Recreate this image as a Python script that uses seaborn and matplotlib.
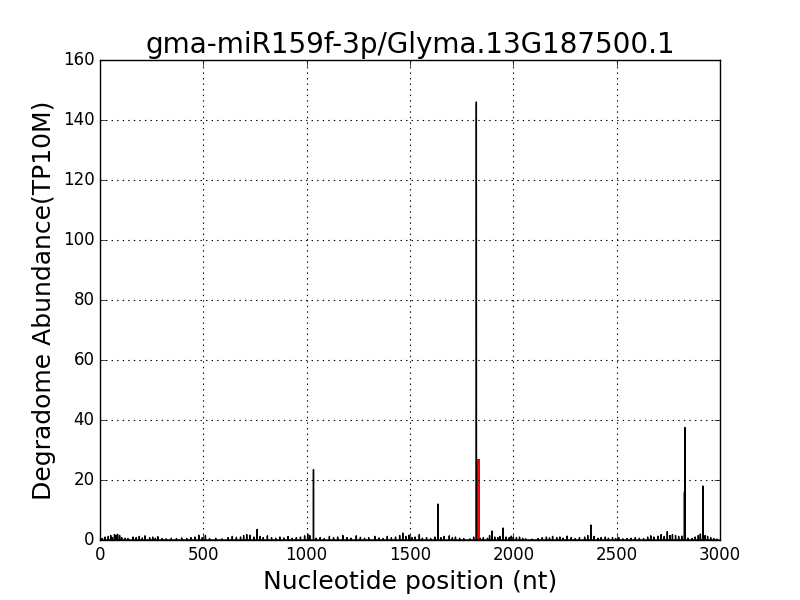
import seaborn as sns
import matplotlib
matplotlib.use("Agg")
import matplotlib.pyplot as plt
import numpy as np
import pandas as pd

plt.style.use("classic")

transcript_length = 2996

# black profile: positions with non-zero degradome reads
peak_pos = [10, 25, 40, 52, 60, 70, 78, 85, 95, 105, 120, 135, 160, 175, 190, 205, 218,
            240, 255, 268, 280, 300, 320, 345, 370, 395, 420, 440, 460, 478, 495,
            510, 530, 560, 590, 620, 640, 660, 680, 695, 710, 725, 745, 760, 775, 790,
            810, 830, 850, 870, 890, 910, 930, 950, 970, 990, 1005, 1015, 1033,
            1045, 1065, 1085, 1110, 1130, 1150, 1175, 1195, 1215, 1240, 1260, 1280,
            1300, 1330, 1350, 1370, 1390, 1410, 1430, 1450, 1465, 1480, 1495,
            1510, 1525, 1545, 1560, 1580, 1600, 1620, 1635, 1650, 1665, 1690, 1705,
            1720, 1740, 1760, 1790, 1808, 1821, 1840, 1855, 1875, 1885, 1897, 1910,
            1925, 1935, 1950, 1965, 1980, 1990, 2000,
            2015, 2030, 2045, 2060, 2090, 2120, 2140, 2160, 2175, 2190, 2210, 2225,
            2240, 2260, 2280, 2300, 2320, 2345, 2360, 2375, 2390, 2410, 2425, 2445,
            2460, 2480, 2495,
            2510, 2530, 2550, 2570, 2590, 2610, 2630, 2650, 2665, 2680, 2700, 2715,
            2730, 2745, 2758, 2770, 2785, 2800, 2815, 2828, 2830, 2845, 2865, 2880,
            2895, 2905, 2917, 2928, 2940, 2955, 2970, 2985]
peak_val = [0.5, 1.0, 1.2, 1.5, 0.8, 1.8, 1.6, 1.9, 1.5, 0.8, 0.6, 0.5, 1.0, 0.8, 1.2, 0.7, 1.4,
            0.8, 1.0, 0.6, 1.1, 0.5, 0.4, 0.6, 0.5, 0.7, 0.5, 0.8, 1.0, 1.6, 0.8,
            1.5, 0.5, 0.6, 0.4, 0.8, 1.2, 0.9, 1.0, 1.5, 1.8, 1.6, 1.0, 3.5, 1.2, 0.8,
            1.4, 0.8, 0.6, 1.0, 0.7, 1.2, 0.6, 0.8, 1.0, 1.4, 2.0, 1.5, 23.5,
            0.6, 0.8, 0.5, 1.2, 0.8, 1.0, 1.5, 0.8, 0.6, 1.4, 0.9, 0.6,
            0.8, 1.2, 0.7, 0.5, 1.2, 0.8, 1.0, 1.5, 2.3, 1.2, 1.6,
            0.8, 1.0, 1.8, 0.6, 0.8, 0.5, 1.0, 12.0, 0.8, 1.2, 1.4, 0.8,
            1.0, 0.6, 0.5, 0.4, 1.0, 146.0, 0.6, 0.8, 0.6, 1.5, 3.0, 1.0,
            0.8, 1.2, 4.0, 1.0, 0.8, 1.3, 1.0,
            0.8, 1.0, 0.6, 0.4, 0.3, 0.5, 0.8, 1.0, 0.7, 1.2, 0.8, 1.0,
            0.6, 1.3, 0.8, 0.5, 0.8, 1.0, 1.5, 5.0, 1.2, 0.6, 0.8, 1.0,
            0.6, 0.8, 0.5,
            0.8, 0.4, 0.5, 0.6, 0.8, 0.6, 0.5, 1.0, 1.4, 1.0, 1.3, 1.8,
            1.2, 2.8, 1.5, 1.8, 1.5, 1.2, 1.3, 16.0, 37.5, 0.6, 0.5, 1.0,
            1.5, 2.0, 18.0, 1.5, 1.2, 0.8, 0.5, 0.3]

# predicted cleavage site (red)
cleave_pos = [1829]
cleave_val = [27.0]

abundance = np.zeros(transcript_length)
abundance[peak_pos] = peak_val
df = pd.DataFrame({"position": np.arange(transcript_length), "abundance": abundance})

fig, ax = plt.subplots(figsize=(8, 6), facecolor="white")
sns.lineplot(data=df, x="position", y="abundance", color="black", linewidth=1,
             estimator=None, ax=ax)
ax.bar(cleave_pos, cleave_val, width=15, color="red", edgecolor="red", linewidth=0)

ax.set_xlim(0, 3000)
ax.set_ylim(0, 160)
ax.grid(True, color="black", linestyle=":", linewidth=0.8)
ax.set_title("gma-miR159f-3p/Glyma.13G187500.1", fontsize=20)
ax.set_xlabel("Nucleotide position (nt)", fontsize=18)
ax.set_ylabel("Degradome Abundance(TP10M)", fontsize=18)
ax.tick_params(labelsize=12)

plt.savefig("out.png", dpi=100, facecolor="white")
